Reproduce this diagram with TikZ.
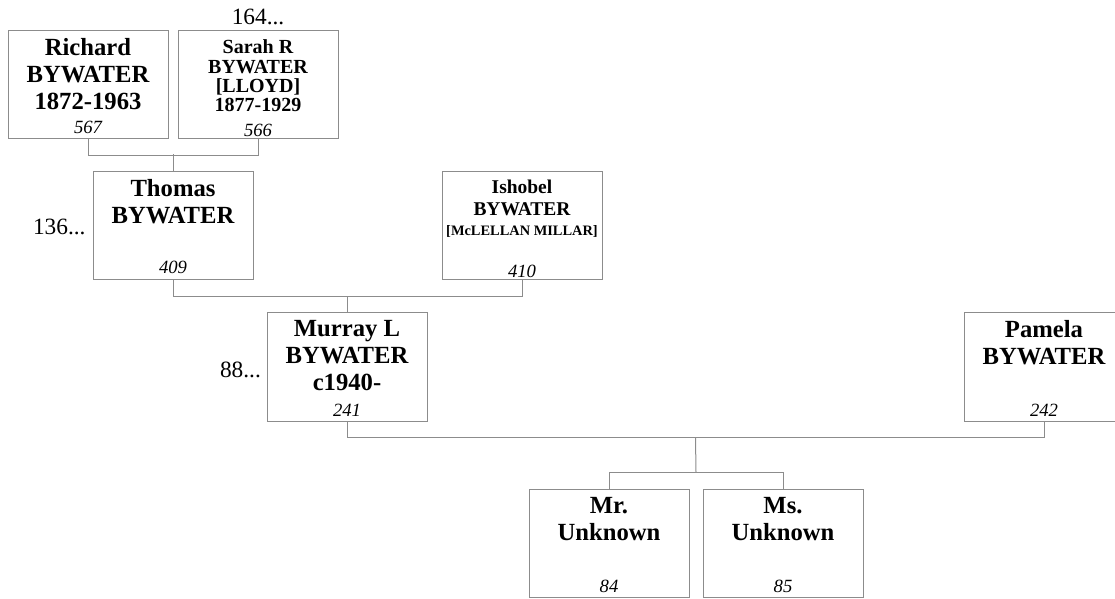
\documentclass[tikz,border=0pt]{standalone}
\usepackage{fontspec}
\setmainfont{Liberation Serif}
\definecolor{frame}{RGB}{140,140,140}

\begin{document}
\begin{tikzpicture}[x=0.75pt, y=-0.75pt,
  person/.style={draw=frame, line width=0.75pt, minimum width=120pt, minimum height=81pt, inner sep=0pt},
  who/.style={anchor=north, inner sep=0pt, align=center, font=\fontsize{18.5}{20.2}\selectfont\bfseries},
  whosmall/.style={who, font=\fontsize{15}{14.5}\selectfont\bfseries},
  idno/.style={anchor=base, inner sep=0pt, font=\fontsize{14}{16}\selectfont\itshape},
  elided/.style={inner sep=0pt, font=\fontsize{17.5}{20}\selectfont},
  tie/.style={draw=frame, line width=0.75pt}]
  \useasboundingbox (0,0) rectangle (1115,599);
  % grandparents
  \node[person] (richard) at (88,85) {};
  \node[who, yshift=-5.5pt] (richard-name) at (richard.north) {Richard\\BYWATER\\1872-1963};
  \node[idno, yshift=4.5pt] (richard-no) at (richard.south) {567};
  \node[person] (sarah) at (258,85) {};
  \node[whosmall, yshift=-7pt] (sarah-name) at (sarah.north) {Sarah R\\BYWATER\\{[LLOYD]}\\1877-1929};
  \node[idno, yshift=2.5pt] (sarah-no) at (sarah.south) {566};
  \node[elided, anchor=base, yshift=4.5pt] (sarah-more) at (sarah.north) {164...};
  % parents
  \node[person] (thomas) at (173,226) {};
  \node[who, yshift=-6pt] (thomas-name) at (thomas.north) {Thomas\\BYWATER};
  \node[idno, yshift=5pt] (thomas-no) at (thomas.south) {409};
  \node[elided, anchor=east, xshift=-5pt, yshift=-1pt] (thomas-more) at (thomas.west) {136...};
  \node[person] (ishobel) at (522,226) {};
  \node[whosmall, yshift=-6pt, font=\fontsize{14.6}{16.5}\selectfont\bfseries] (ishobel-name) at (ishobel.north)
    {Ishobel\\BYWATER\\[-1.5pt]{\fontsize{10.8}{13}\selectfont [McLELLAN MILLAR]}};
  \node[idno, yshift=2.5pt] (ishobel-no) at (ishobel.south) {410};
  % couple
  \node[person] (murray) at (347,367) {};
  \node[who, yshift=-5.5pt] (murray-name) at (murray.north) {Murray L\\BYWATER\\c1940-};
  \node[idno, yshift=4pt] (murray-no) at (murray.south) {241};
  \node[elided, anchor=east, xshift=-4pt, yshift=-2pt] (murray-more) at (murray.west) {88...};
  \node[person] (pamela) at (1044,367) {};
  \node[who, yshift=-5.5pt] (pamela-name) at (pamela.north) {Pamela\\BYWATER};
  \node[idno, yshift=4pt] (pamela-no) at (pamela.south) {242};
  % children
  \node[person] (mr) at (609,543.5) {};
  \node[who, yshift=-6pt] (mr-name) at (mr.north) {Mr.\\Unknown};
  \node[idno, yshift=4pt] (mr-no) at (mr.south) {84};
  \node[person] (ms) at (783,543.5) {};
  \node[who, yshift=-6pt] (ms-name) at (ms.north) {Ms.\\Unknown};
  \node[idno, yshift=4pt] (ms-no) at (ms.south) {85};
  % family lines
  \draw[tie] (richard.south) -- ++(0,16) -| (sarah.south);
  \draw[tie] (thomas.north) -- ++(0,-17);
  \draw[tie] (thomas.south) -- ++(0,16) -| (ishobel.south);
  \draw[tie] (murray.north) -- ++(0,-16);
  \draw[tie] (murray.south) -- ++(0,16) -| node[coordinate, pos=0.25] (couple) {} (pamela.south);
  \draw[tie] (mr.north) -- ++(0,-17) -| node[coordinate, pos=0.25] (kids) {} (ms.north);
  \draw[tie] (couple) -- (kids);
\end{tikzpicture}
\end{document}
